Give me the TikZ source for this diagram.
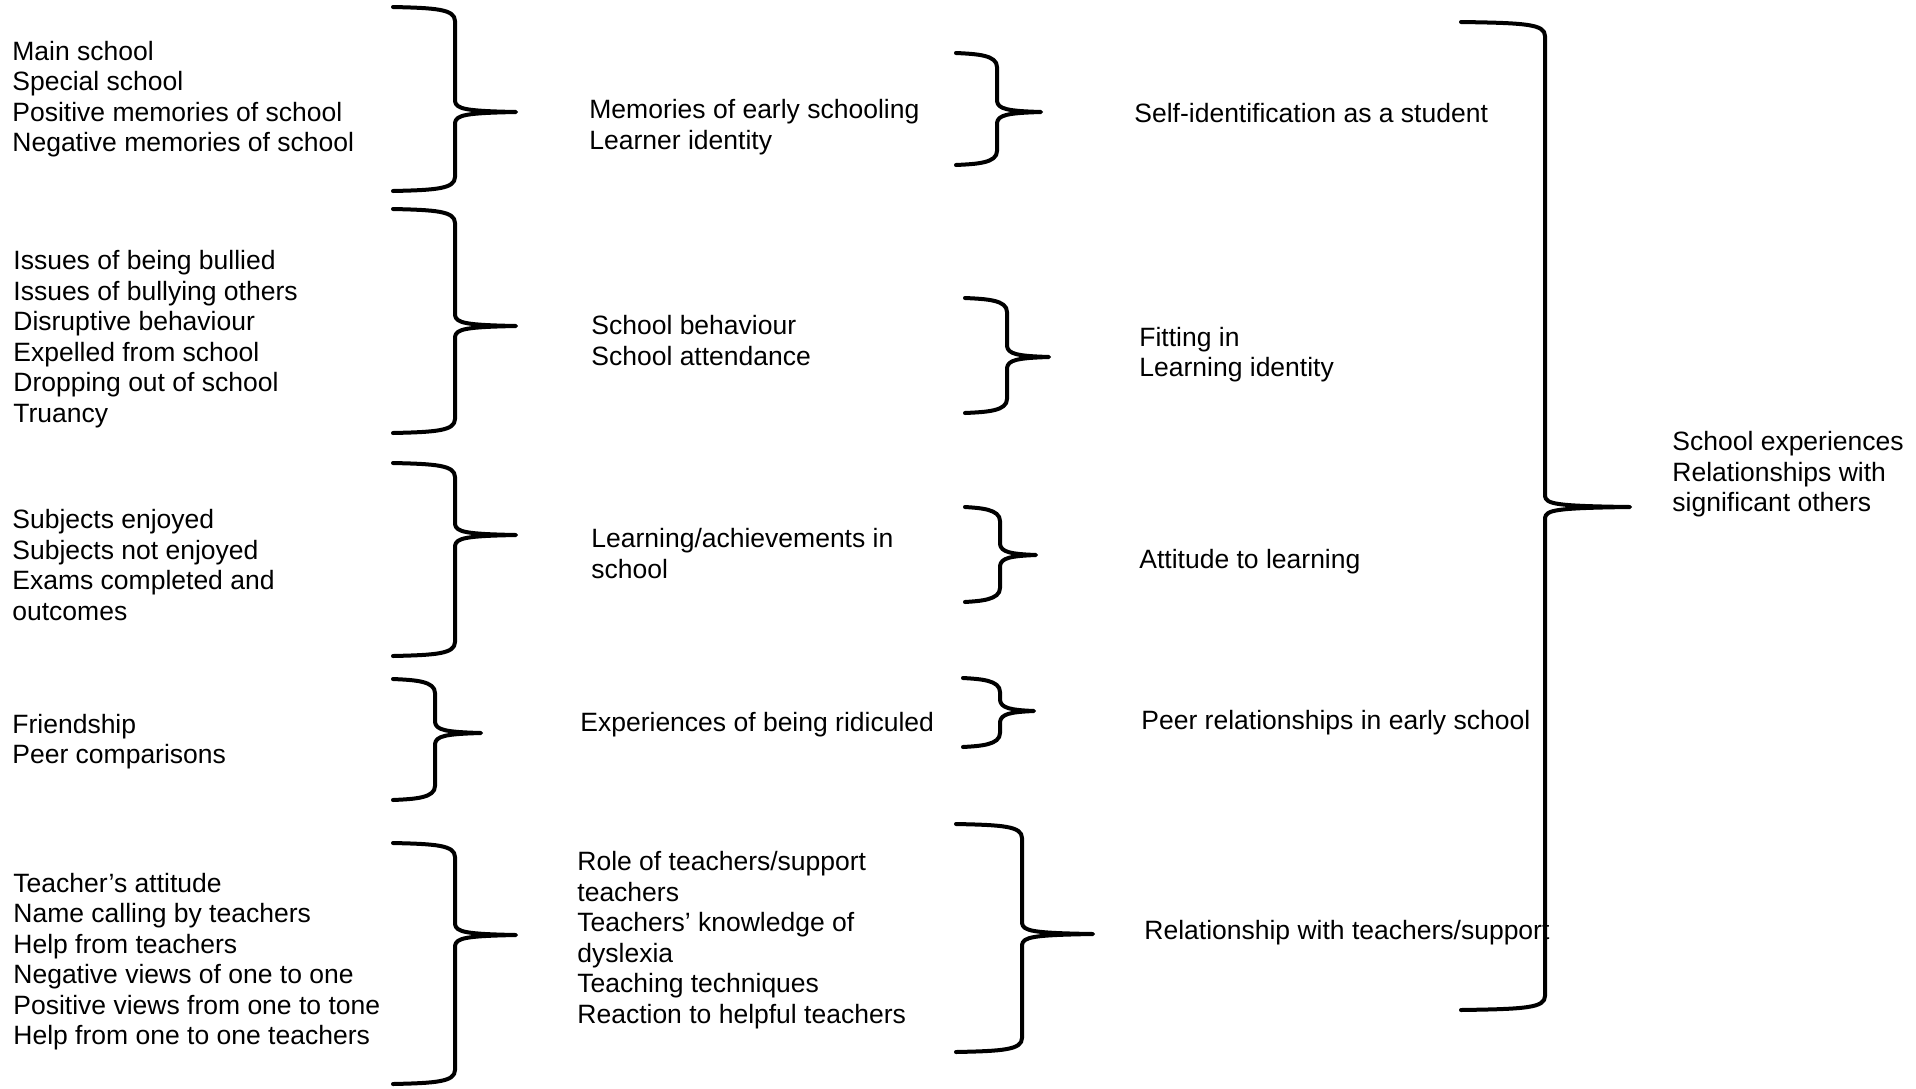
\documentclass[tikz,border=0pt]{standalone}
\usepackage{fontspec}
\setmainfont{Liberation Sans}
\tikzset{
  txt/.style={font=\fontsize{13.25}{15.25}\selectfont, align=left, inner sep=0pt, anchor=west},
  brace/.style={line width=2pt, line cap=round, line join=round}
}
% xl, xv, xt, yt, ym, yb
\newcommand\cbrace[6]{%
  \draw[brace] (#1,#4) .. controls (#2-20,#4+1) and (#2,#4+2) .. (#2,#4+14)
    -- (#2,#5-11) .. controls (#2+1,#5-3) and (#2+10,#5-1) .. (#3,#5)
    .. controls (#2+10,#5+1) and (#2+1,#5+3) .. (#2,#5+11)
    -- (#2,#6-14) .. controls (#2,#6-2) and (#2-20,#6-1) .. (#1,#6);}
\begin{document}
\begin{tikzpicture}[x=0.5pt,y=-0.5pt]
\useasboundingbox (0,0) rectangle (1916,1088);
% column 1
\node[txt] (a1) at (12,100) {\strut Main school\\Special school\\Positive memories of school\\Negative memories of school\strut};
\node[txt] (a2) at (13,340) {\strut Issues of being bullied\\Issues of bullying others\\Disruptive behaviour\\Expelled from school\\Dropping out of school\\Truancy\strut};
\node[txt] (a3) at (12,568.5) {\strut Subjects enjoyed\\Subjects not enjoyed\\Exams completed and\\outcomes\strut};
\node[txt] (a4) at (12,742.5) {\strut Friendship\\Peer comparisons\strut};
\node[txt] (a5) at (13,962.5) {\strut Teacher’s attitude\\Name calling by teachers\\Help from teachers\\Negative views of one to one\\Positive views from one to tone\\Help from one to one teachers\strut};
% column 2
\node[txt] (b1) at (589,128) {\strut Memories of early schooling\\Learner identity\strut};
\node[txt] (b2) at (591,344) {\strut School behaviour\\School attendance\strut};
\node[txt] (b3) at (591,557) {\strut Learning/achievements in\\school\strut};
\node[txt] (b4) at (580,725) {\strut Experiences of being ridiculed\strut};
\node[txt] (b5) at (577,941) {\strut Role of teachers/support\\teachers\\Teachers’ knowledge of\\dyslexia\\Teaching techniques\\Reaction to helpful teachers\strut};
% column 3
\node[txt] (c1) at (1134,116) {\strut Self-identification as a student\strut};
\node[txt] (c2) at (1139,355.5) {\strut Fitting in\\Learning identity\strut};
\node[txt] (c3) at (1139,562) {\strut Attitude to learning\strut};
\node[txt] (c4) at (1141,723) {\strut Peer relationships in early school\strut};
\node[txt] (c5) at (1144,933) {\strut Relationship with teachers/support\strut};
% right
\node[txt] (d) at (1672,475) {\strut School experiences\\Relationships with\\significant others\strut};
% braces column 1
\cbrace{393}{455}{516}{7}{112}{191}
\cbrace{393}{455}{516}{209}{326}{433}
\cbrace{393}{455}{516}{463}{535}{656}
\cbrace{393}{435}{481}{679}{733}{800}
\cbrace{393}{455}{516}{843}{935}{1084}
% braces column 2
\cbrace{956}{997}{1041}{53}{112}{165}
\cbrace{965}{1007}{1049}{298}{357}{413}
\cbrace{965}{1000}{1036}{507}{555}{602}
\cbrace{963}{1000}{1034}{678}{711}{747}
\cbrace{956}{1022}{1093}{824}{934}{1052}
% big brace
\cbrace{1461}{1545}{1630}{22}{507}{1010}
\end{tikzpicture}
\end{document}
